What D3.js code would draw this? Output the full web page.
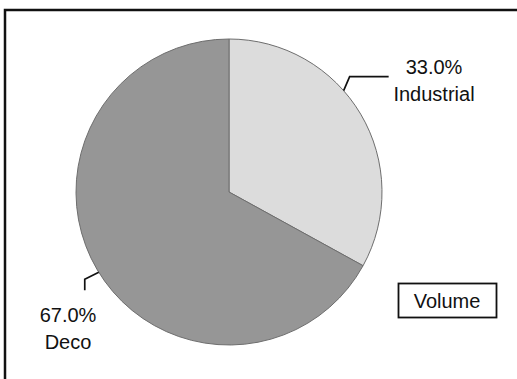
<!DOCTYPE html>
<html><head><meta charset="utf-8">
<script src="https://cdn.jsdelivr.net/npm/d3@7"></script>
<style>body{margin:0;background:#fff}svg{display:block}</style>
</head><body>
<script>
const categories = ["Industrial", "Deco"];
const values = [33.0, 67.0];
const colors = ["#dcdcdc", "#969696"];
const legendTitle = "Volume";

const W = 517, H = 379;
const svg = d3.select("body").append("svg").attr("width", W).attr("height", H);
svg.append("rect").attr("width", W).attr("height", H).attr("fill", "#fff");

// frame (top and left visible)
svg.append("path").attr("d", `M5,${H} L5,10 L${W},10`).attr("fill", "none")
  .attr("stroke", "#111").attr("stroke-width", 2.5);

const cx = 229, cy = 192, r = 153;
const pie = d3.pie().sort(null).value(d => d.v);
const data = pie(categories.map((c, i) => ({c, v: values[i], col: colors[i]})));
const arc = d3.arc().innerRadius(0).outerRadius(r);
const g = svg.append("g").attr("transform", `translate(${cx},${cy})`);
g.selectAll("path").data(data).join("path")
  .attr("d", arc).attr("fill", d => d.data.col)
  .attr("stroke", "#6e6e6e").attr("stroke-width", 1);

const font = "Arial, 'Liberation Sans', sans-serif";
const fs = 20;
function pt(a, rr) { return [cx + rr * Math.sin(a), cy - rr * Math.cos(a)]; }
function label(lines, x, y0) {
  lines.forEach((t, i) => svg.append("text").attr("x", x).attr("y", y0 + i * 26.5)
    .attr("text-anchor", "middle").attr("font-family", font).attr("font-size", fs)
    .attr("fill", "#111").text(t));
}

// Industrial label
{
  const d = data[0];
  const p0 = pt(0.847, r);
  const p1 = [p0[0] + 6, p0[1] - 14];
  const p2 = [p1[0] + 39, p1[1]];
  svg.append("polyline").attr("points", [p0, p1, p2].map(p => p.join(",")).join(" "))
    .attr("fill", "none").attr("stroke", "#111").attr("stroke-width", 1.7);
  label([d.data.v.toFixed(1) + "%", d.data.c], 434, 74);
}
// Deco label
{
  const d = data[1];
  const p0 = pt(4.16, r);
  const p1 = [p0[0] - 14, p0[1] + 7];
  const p2 = [p1[0], p1[1] + 11];
  svg.append("polyline").attr("points", [p0, p1, p2].map(p => p.join(",")).join(" "))
    .attr("fill", "none").attr("stroke", "#111").attr("stroke-width", 1.7);
  label([d.data.v.toFixed(1) + "%", d.data.c], 68, 322);
}
// legend box
svg.append("rect").attr("x", 398.5).attr("y", 283.5).attr("width", 98).attr("height", 34)
  .attr("fill", "#fff").attr("stroke", "#111").attr("stroke-width", 1.8);
svg.append("text").attr("x", 447).attr("y", 308).attr("text-anchor", "middle")
  .attr("font-family", font).attr("font-size", fs).attr("fill", "#111").text(legendTitle);
</script>
</body></html>
